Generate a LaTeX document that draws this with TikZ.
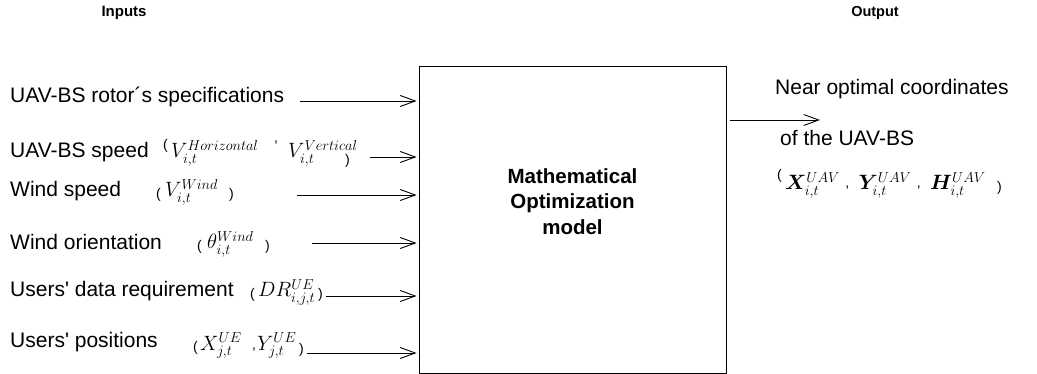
\documentclass[tikz,border=0pt]{standalone}
\usepackage{fontspec}
\setmainfont{Liberation Sans}
\usepackage{amsmath}
\usepackage{bm}
\usetikzlibrary{arrows.meta,calc}
\tikzset{
  lbl/.style={font=\fontsize{21}{24}\selectfont, inner sep=0pt, anchor=base west},
  mth/.style={font=\fontsize{22.5}{26}\selectfont, inner sep=0pt, anchor=base west},
  omth/.style={font=\fontsize{22}{26}\selectfont, inner sep=0pt, anchor=base west},
  parn/.style={font=\fontsize{14}{16}\selectfont, inner sep=0pt, anchor=base west},
  hdr/.style={font=\fontsize{15}{17}\selectfont\bfseries, inner sep=0pt},
  inarrow/.style={-{Straight Barb[length=15pt,width=11pt,line width=0.9pt]}, line width=0.9pt},
  mainbox/.style={draw, line width=0.9pt, minimum width=307pt, minimum height=307pt, inner sep=0pt},
}
\begin{document}
\begin{tikzpicture}[x=1pt,y=-1pt]
\fill[white] (0,0) rectangle (1037,374);
\useasboundingbox (0,0) rectangle (1037,374);

% headers
\node[hdr] (inputs) at (124,13) {Inputs};
\node[hdr, font=\fontsize{14.5}{17}\selectfont\bfseries] (output) at (875,13) {Output};

% main box
\node[mainbox] (box) at (572.5,219.5) {};
\node[font=\fontsize{20.5}{25.5}\selectfont\bfseries, align=center, inner sep=0pt] (mtitle) at (572.5,201.5) {Mathematical\\Optimization\\model};

% line 1
\node[lbl] (t1) at (10,103) {UAV-BS rotor´s specifications};
\coordinate (a1) at (300,101);

% line 2
\node[lbl] (t2) at (10,158) {UAV-BS speed};
\node[parn] (p2a) at (163,150) {(};
\node[mth] (m2a) at (171,158) {$V_{i,t}^{Horizontal}$};
\node[parn] (c2) at (274,143) {,};
\node[mth] (m2b) at (288,158) {$V_{i,t}^{Vertical}$};
\node[parn] (p2b) at (345,165) {)};
\coordinate (a2) at (370,157);

% line 3
\node[lbl] (t3) at (10,197) {Wind speed};
\node[parn] (p3a) at (156,199) {(};
\node[mth] (m3) at (165,197) {$V_{i,t}^{Wind}$};
\node[parn] (p3b) at (229,199) {)};
\coordinate (a3) at (297,195);

% line 4
\node[lbl] (t4) at (10,250) {Wind orientation};
\node[parn] (p4a) at (197,251) {(};
\node[mth] (m4) at (207,249) {$\theta_{i,t}^{Wind}$};
\node[parn] (p4b) at (265,251) {)};
\coordinate (a4) at (312,243);

% line 5
\node[lbl] (t5) at (10,297) {Users\textquotesingle\ data requirement};
\node[parn] (p5a) at (250,299) {(};
\node[mth] (m5) at (258,297) {$DR_{i,j,t}^{UE}$};
\node[parn] (p5b) at (318,299) {)};
\coordinate (a5) at (326,296);

% line 6
\node[lbl] (t6) at (10,348) {Users\textquotesingle\ positions};
\node[parn] (p6a) at (193,352) {(};
\node[mth] (m6a) at (200,350) {$X_{j,t}^{UE}$};
\node[parn] (c6) at (252,349) {,};
\node[mth] (m6b) at (257,350) {$Y_{j,t}^{UE}$};
\node[parn] (p6b) at (299,353) {)};
\coordinate (a6) at (307,353);

% input arrows
\foreach \c in {a1,a2,a3,a4,a5,a6}
  \draw[inarrow, shorten >=2pt] (\c) -- (\c -| box.west);

% output
\coordinate (o1) at (820,120);
\draw[inarrow, shorten <=4pt] (box.east |- o1) -- (o1);
\node[lbl] (n1) at (775,95) {Near optimal coordinates};
\node[lbl] (n2) at (780,146) {of the UAV-BS};
\node[parn] (q1) at (777,180) {(};
\node[omth] (x1) at (785,190) {$\bm{X}_{i,t}^{UAV}$};
\node[parn] (q2) at ($(x1.base east)+(5,-2)$) {,};
\node[omth] (y1) at ($(q2.base east)+(9,2)$) {$\bm{Y}_{i,t}^{UAV}$};
\node[parn] (q3) at ($(y1.base east)+(5,-2)$) {,};
\node[omth] (h1) at ($(q3.base east)+(9,2)$) {$\bm{H}_{i,t}^{UAV}$};
\node[parn] (q4) at (997,192) {)};
\end{tikzpicture}
\end{document}
